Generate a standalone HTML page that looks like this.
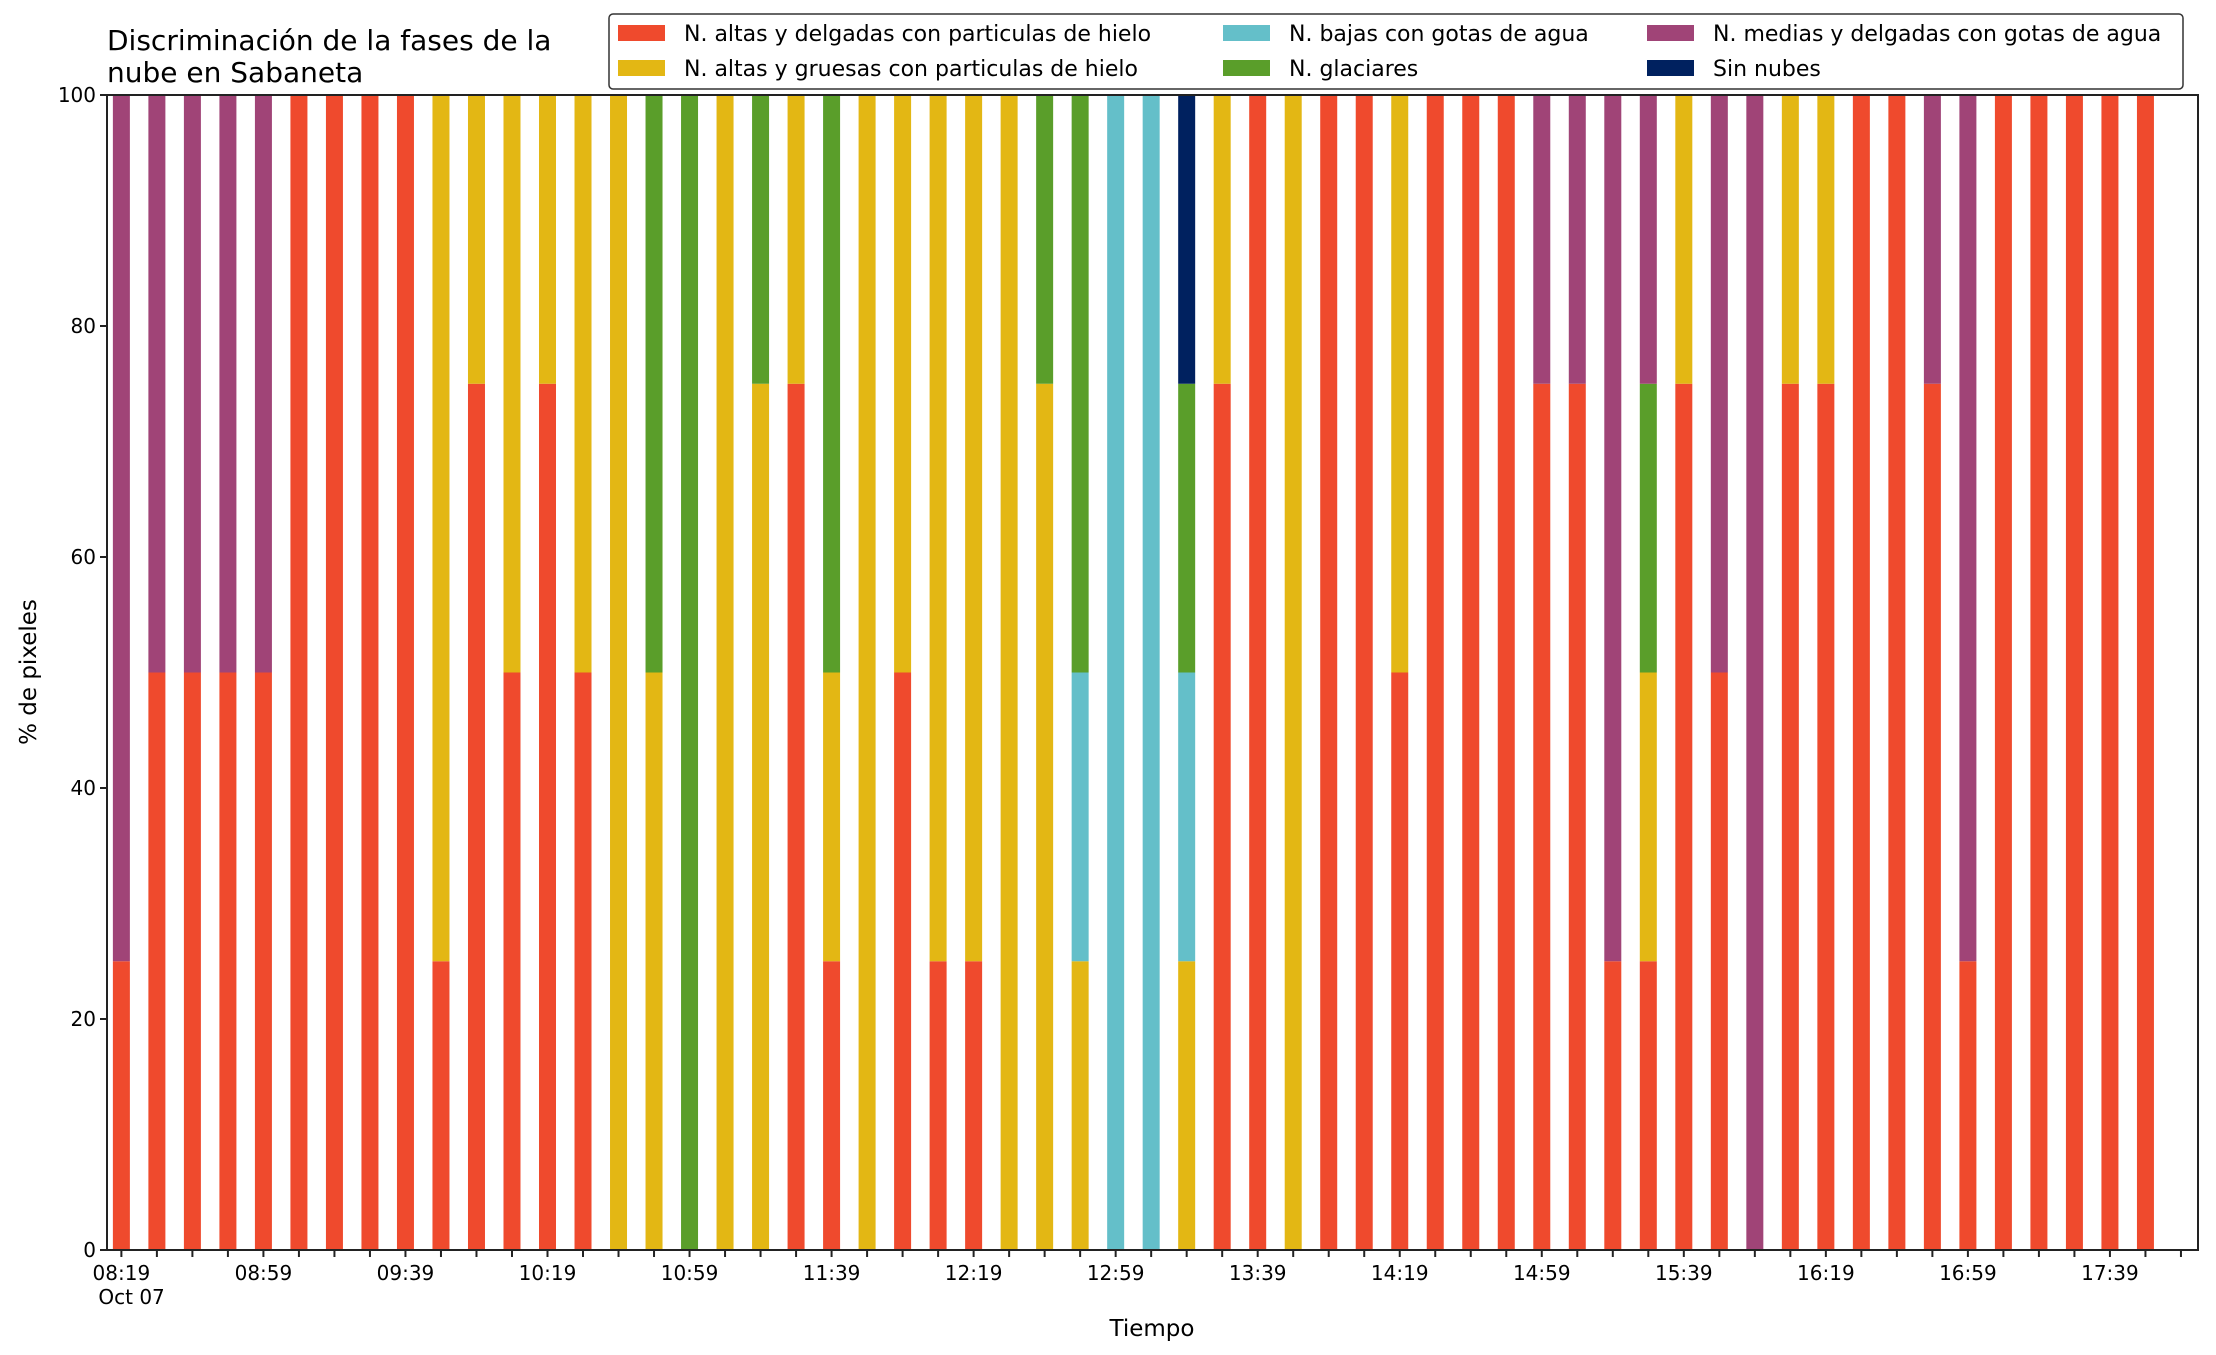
<!DOCTYPE html>
<html><head><meta charset="utf-8"><style>
body{margin:0;background:#fff;}
svg{display:block;font-family:"DejaVu Sans","Liberation Sans",sans-serif;}
</style></head><body>
<svg id="chart" width="2216" height="1355" viewBox="0 0 2216 1355">
<text x="107" y="50" font-size="28" fill="#000">Discriminación de la fases de la</text>
<text x="107" y="82" font-size="28" fill="#000">nube en Sabaneta</text>
<g id="bars"></g>
<g id="axes"></g>
<text x="1152" y="1336" font-size="23" text-anchor="middle">Tiempo</text>
<text transform="translate(36,672) rotate(-90)" font-size="23" text-anchor="middle">% de pixeles</text>
<g id="legend"></g>
</svg>
<script>
const timeLabels=["08:19","08:59","09:39","10:19","10:59","11:39","12:19","12:59","13:39","14:19","14:59","15:39","16:19","16:59","17:39"];
const seriesNames=["N. altas y delgadas con particulas de hielo","N. altas y gruesas con particulas de hielo","N. bajas con gotas de agua","N. glaciares","N. medias y delgadas con gotas de agua","Sin nubes"];
const colors=["#EF4A2D","#E3B714","#64BFC9","#5A9E2A","#A04477","#00215F"];
const altasDelgadas=[25,50,50,50,50,100,100,100,100,25,75,50,75,50,0,0,0,0,0,75,25,0,50,25,25,0,0,0,0,0,0,75,100,0,100,100,50,100,100,100,75,75,25,25,75,50,0,75,75,100,100,75,25,100,100,100,100,100];
const altasGruesas=[0,0,0,0,0,0,0,0,0,75,25,50,25,50,100,50,0,100,75,25,25,100,50,75,75,100,75,25,0,0,25,25,0,100,0,0,50,0,0,0,0,0,0,25,25,0,0,25,25,0,0,0,0,0,0,0,0,0];
const bajasAgua=[0,0,0,0,0,0,0,0,0,0,0,0,0,0,0,0,0,0,0,0,0,0,0,0,0,0,0,25,100,100,25,0,0,0,0,0,0,0,0,0,0,0,0,0,0,0,0,0,0,0,0,0,0,0,0,0,0,0];
const glaciares=[0,0,0,0,0,0,0,0,0,0,0,0,0,0,0,50,100,0,25,0,50,0,0,0,0,0,25,50,0,0,25,0,0,0,0,0,0,0,0,0,0,0,0,25,0,0,0,0,0,0,0,0,0,0,0,0,0,0];
const mediasAgua=[75,50,50,50,50,0,0,0,0,0,0,0,0,0,0,0,0,0,0,0,0,0,0,0,0,0,0,0,0,0,0,0,0,0,0,0,0,0,0,0,25,25,75,25,0,50,100,0,0,0,0,25,75,0,0,0,0,0];
const sinNubes=[0,0,0,0,0,0,0,0,0,0,0,0,0,0,0,0,0,0,0,0,0,0,0,0,0,0,0,0,0,0,25,0,0,0,0,0,0,0,0,0,0,0,0,0,0,0,0,0,0,0,0,0,0,0,0,0,0,0];
const yTicks=[0,20,40,60,80,100];
const series=[altasDelgadas,altasGruesas,bajasAgua,glaciares,mediasAgua,sinNubes];
const NS="http://www.w3.org/2000/svg";
const L=107,R=2198,T=95,B=1250;
const xMin=-0.405,xMax=58.48;
const nTicks=59;
function xs(i){return L+(i-xMin)/(xMax-xMin)*(R-L);}
function ys(v){return B-v/100*(B-T);}
function mk(tag,attrs,parent){const e=document.createElementNS(NS,tag);for(const k in attrs)e.setAttribute(k,attrs[k]);parent.appendChild(e);return e;}
const bars=document.getElementById('bars');
const bw=17;
for(let i=0;i<altasDelgadas.length;i++){
  let base=0;
  for(let s=0;s<series.length;s++){
    const v=series[s][i];
    if(v>0){
      const r=mk('rect',{x:xs(i)-bw/2,y:ys(base+v),width:bw,height:ys(base)-ys(base+v),fill:colors[s]},bars);
      
      
    }
    base+=v;
  }
}
const axes=document.getElementById('axes');
const frame=mk('rect',{x:L,y:T,width:R-L,height:B-T,fill:"none",stroke:"#222","stroke-width":2},axes);


for(const t of yTicks){
  const y=ys(t);
  const ln=mk('line',{x1:L-7,x2:L,y1:y,y2:y,stroke:"#222","stroke-width":2},axes);
  
  
  const tx=mk('text',{x:L-11,y:y+7,"font-size":20,"text-anchor":"end"},axes);
  tx.textContent=t;
  
  
}
for(let i=0;i<nTicks;i++){
  const x=xs(i);
  const ln=mk('line',{x1:x,x2:x,y1:B,y2:B+7,stroke:"#222","stroke-width":2},axes);
  
  
}
timeLabels.forEach((lab,k)=>{
  const x=xs(k*4);
  const tx=mk('text',{x:x,y:1280,"font-size":20,"text-anchor":"middle"},axes);
  tx.textContent=lab;
  
  
});
const od=mk('text',{x:xs(0)-23,y:1304,"font-size":20},axes);
od.textContent="Oct 07";


const leg=document.getElementById('legend');
const box=mk('rect',{x:609,y:14,width:1574,height:75,rx:4,fill:"#fff",stroke:"#333","stroke-width":1.5},leg);


const colX=[618,1223,1647];
seriesNames.forEach((n,s)=>{
  const c=Math.floor(s/2),r=s%2;
  const y=r?68:33;
  const sw=mk('rect',{x:colX[c],y:y-8,width:47,height:16,fill:colors[s]},leg);
  
  
  const tx=mk('text',{x:colX[c]+66,y:y+8,"font-size":22},leg);
  tx.textContent=n;
  
  
});
</script>
</body></html>
